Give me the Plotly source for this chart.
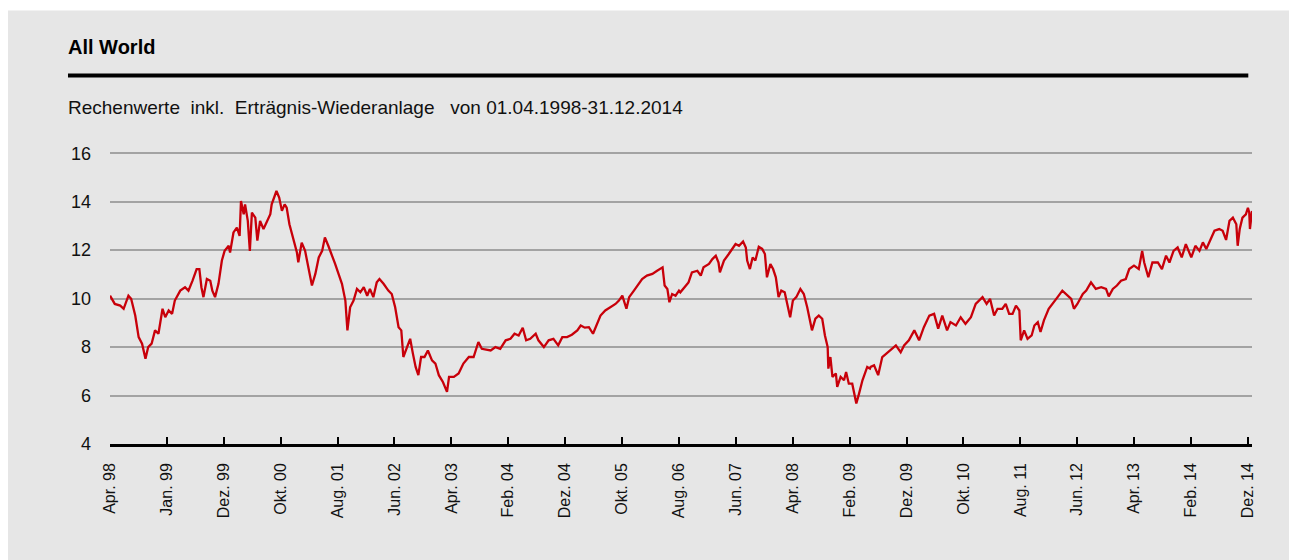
import plotly.graph_objects as go
import numpy as np

# ---- data (decimal year, index value) ----
years = [
    1998.25, 1998.32, 1998.40, 1998.45, 1998.52, 1998.56, 1998.62, 1998.67, 1998.72, 1998.77,
    1998.81, 1998.86, 1998.91, 1998.96, 1999.02, 1999.06, 1999.11, 1999.16, 1999.20, 1999.28,
    1999.35, 1999.40, 1999.46, 1999.52, 1999.56, 1999.59, 1999.62, 1999.67, 1999.72, 1999.75,
    1999.79, 1999.84, 1999.89, 1999.93, 1999.99, 2000.01, 2000.06, 2000.11, 2000.15, 2000.17,
    2000.21, 2000.23, 2000.27, 2000.30, 2000.33, 2000.38, 2000.41, 2000.45, 2000.50, 2000.55,
    2000.60, 2000.62, 2000.66, 2000.69, 2000.73, 2000.77, 2000.81, 2000.84, 2000.88, 2000.94,
    2000.99, 2001.01, 2001.06, 2001.11, 2001.16, 2001.21, 2001.26, 2001.31, 2001.36, 2001.40,
    2001.45, 2001.50, 2001.55, 2001.60, 2001.65, 2001.70, 2001.73, 2001.77, 2001.82, 2001.87,
    2001.92, 2001.97, 2002.02, 2002.06, 2002.11, 2002.16, 2002.20, 2002.26, 2002.33, 2002.38,
    2002.43, 2002.48, 2002.52, 2002.55, 2002.60, 2002.65, 2002.69, 2002.73, 2002.77, 2002.81,
    2002.86, 2002.91, 2002.97, 2003.02, 2003.07, 2003.13, 2003.19, 2003.22, 2003.29, 2003.36,
    2003.43, 2003.51, 2003.58, 2003.65, 2003.70, 2003.75, 2003.83, 2003.90, 2003.97, 2004.05,
    2004.12, 2004.18, 2004.24, 2004.30, 2004.35, 2004.41, 2004.49, 2004.53, 2004.61, 2004.68,
    2004.75, 2004.82, 2004.88, 2004.95, 2005.02, 2005.10, 2005.15, 2005.21, 2005.27, 2005.33,
    2005.39, 2005.44, 2005.51, 2005.59, 2005.66, 2005.71, 2005.76, 2005.82, 2005.86, 2005.93,
    2006.00, 2006.05, 2006.12, 2006.20, 2006.27, 2006.35, 2006.38, 2006.42, 2006.45, 2006.49,
    2006.54, 2006.59, 2006.61, 2006.69, 2006.73, 2006.78, 2006.86, 2006.91, 2006.95, 2007.03,
    2007.08, 2007.13, 2007.17, 2007.19, 2007.25, 2007.32, 2007.37, 2007.42, 2007.47, 2007.53,
    2007.57, 2007.59, 2007.63, 2007.67, 2007.71, 2007.76, 2007.81, 2007.85, 2007.88, 2007.93,
    2007.97, 2008.01, 2008.05, 2008.09, 2008.14, 2008.18, 2008.22, 2008.26, 2008.31, 2008.37,
    2008.42, 2008.47, 2008.54, 2008.59, 2008.64, 2008.69, 2008.73, 2008.77, 2008.78, 2008.81,
    2008.84, 2008.89, 2008.91, 2008.96, 2009.01, 2009.04, 2009.08, 2009.13, 2009.19, 2009.23,
    2009.28, 2009.35, 2009.39, 2009.40, 2009.45, 2009.51, 2009.57, 2009.63, 2009.69, 2009.77,
    2009.84, 2009.89, 2009.96, 2010.04, 2010.11, 2010.18, 2010.26, 2010.33, 2010.39, 2010.45,
    2010.52, 2010.57, 2010.65, 2010.72, 2010.79, 2010.87, 2010.94, 2011.04, 2011.10, 2011.15,
    2011.21, 2011.26, 2011.33, 2011.38, 2011.43, 2011.48, 2011.53, 2011.58, 2011.60, 2011.65,
    2011.70, 2011.76, 2011.80, 2011.85, 2011.89, 2011.94, 2012.01, 2012.07, 2012.14, 2012.21,
    2012.29, 2012.34, 2012.38, 2012.43, 2012.51, 2012.56, 2012.63, 2012.70, 2012.78, 2012.85,
    2012.89, 2012.95, 2013.01, 2013.07, 2013.14, 2013.19, 2013.26, 2013.33, 2013.38, 2013.41,
    2013.47, 2013.53, 2013.61, 2013.67, 2013.73, 2013.78, 2013.84, 2013.90, 2013.96, 2014.02,
    2014.10, 2014.16, 2014.22, 2014.27, 2014.32, 2014.37, 2014.44, 2014.51, 2014.56, 2014.61,
    2014.66, 2014.71, 2014.76, 2014.78, 2014.81, 2014.85, 2014.90, 2014.93, 2014.95, 2014.96,
    2014.99,
]
values = [
    10.12, 9.78, 9.71, 9.58, 10.12, 9.99, 9.30, 8.41, 8.14, 7.52,
    8.00, 8.14, 8.69, 8.55, 9.58, 9.23, 9.51, 9.37, 9.92, 10.33,
    10.47, 10.33, 10.74, 11.22, 11.22, 10.47, 10.06, 10.81, 10.74, 10.33,
    10.06, 10.61, 11.57, 11.97, 12.18, 11.90, 12.73, 12.93, 12.59, 14.03,
    13.48, 13.89, 13.21, 11.97, 13.55, 13.34, 12.39, 13.21, 12.87, 13.21,
    13.48, 13.89, 14.23, 14.44, 14.17, 13.62, 13.89, 13.75, 13.07, 12.46,
    11.90, 11.50, 12.31, 11.97, 11.29, 10.54, 11.02, 11.70, 11.97, 12.52,
    12.18, 11.84, 11.43, 11.02, 10.61, 9.92, 8.69, 9.64, 9.92, 10.40,
    10.26, 10.47, 10.12, 10.40, 10.06, 10.67, 10.81, 10.61, 10.33, 10.19,
    9.64, 8.82, 8.69, 7.59, 8.00, 8.34, 7.73, 7.18, 6.84, 7.59,
    7.59, 7.86, 7.45, 7.32, 6.84, 6.56, 6.15, 6.77, 6.77, 6.91,
    7.32, 7.59, 7.59, 8.21, 7.93, 7.90, 7.86, 8.00, 7.93, 8.28,
    8.34, 8.55, 8.48, 8.80, 8.28, 8.34, 8.55, 8.28, 8.00, 8.28,
    8.34, 8.07, 8.41, 8.41, 8.51, 8.69, 8.89, 8.80, 8.82, 8.55,
    8.96, 9.30, 9.51, 9.64, 9.78, 9.92, 10.12, 9.58, 10.06, 10.33,
    10.61, 10.81, 10.95, 11.02, 11.15, 11.29, 10.54, 10.40, 9.85, 10.19,
    10.12, 10.33, 10.26, 10.54, 10.67, 11.08, 11.15, 10.95, 11.29, 11.43,
    11.63, 11.77, 11.49, 11.08, 11.57, 11.84, 12.05, 12.25, 12.18, 12.36,
    12.11, 11.57, 11.22, 11.70, 11.57, 12.14, 12.05, 11.84, 10.88, 11.43,
    11.22, 10.88, 10.06, 10.33, 10.26, 9.78, 9.23, 9.92, 10.06, 10.40,
    10.19, 9.64, 8.69, 9.17, 9.30, 9.17, 8.48, 8.00, 7.11, 7.59,
    6.77, 6.91, 6.36, 6.77, 6.63, 6.97, 6.49, 6.49, 5.67, 6.08,
    6.63, 7.18, 7.11, 7.18, 7.25, 6.84, 7.59, 7.73, 7.86, 8.07,
    7.79, 8.07, 8.28, 8.69, 8.28, 8.82, 9.30, 9.37, 8.76, 9.30,
    8.69, 9.03, 8.89, 9.23, 8.96, 9.23, 9.78, 10.06, 9.78, 9.99,
    9.30, 9.58, 9.58, 9.78, 9.37, 9.37, 9.71, 9.51, 8.28, 8.69,
    8.34, 8.48, 8.89, 9.03, 8.62, 9.10, 9.58, 9.78, 10.06, 10.33,
    10.12, 9.99, 9.58, 9.78, 10.19, 10.33, 10.67, 10.40, 10.47, 10.40,
    10.09, 10.40, 10.54, 10.74, 10.81, 11.22, 11.36, 11.22, 11.97, 11.49,
    10.88, 11.49, 11.49, 11.22, 11.77, 11.49, 11.97, 12.11, 11.70, 12.25,
    11.70, 12.18, 11.97, 12.32, 12.05, 12.39, 12.80, 12.87, 12.80, 12.42,
    13.21, 13.34, 13.07, 12.18, 12.87, 13.34, 13.48, 13.75, 13.55, 12.87,
    13.62,
]
tick_labels = ["Apr. 98", "Jan. 99", "Dez. 99", "Okt. 00", "Aug. 01", "Jun. 02", "Apr. 03",
               "Feb. 04", "Dez. 04", "Okt. 05", "Aug. 06", "Jun. 07", "Apr. 08", "Feb. 09",
               "Dez. 09", "Okt. 10", "Aug. 11", "Jun. 12", "Apr. 13", "Feb. 14", "Dez. 14"]
y_ticks = [4, 6, 8, 10, 12, 14, 16]
title_text = "All World"
subtitle_text = "Rechenwerte\u00a0\u00a0inkl.\u00a0\u00a0Erträgnis-Wiederanlage\u00a0\u00a0 von 01.04.1998-31.12.2014"

# ---- layout geometry (page pixels; the page body adds an 8px offset) ----
OFF = 8
W, H = 1281, 552
Y_MIN, Y_MAX = 4, 16.05
PLOT_L, PLOT_R, PLOT_B = 110, 1251.7, 444.5          # page coords
UNIT = (444.5 - 153) / 12.0                           # px per index point
PLOT_T = PLOT_B - (Y_MAX - Y_MIN) * UNIT
ML = PLOT_L - OFF
MR = W - (PLOT_R - OFF)
MT = PLOT_T - OFF
MB = H - (PLOT_B - OFF)
PW, PH = PLOT_R - PLOT_L, PLOT_B - PLOT_T


def px(xp):
    return (xp - PLOT_L) / PW


def py(yp):
    return (PLOT_B - yp) / PH


FONT = "Liberation Sans Narrow, Arial Narrow, Liberation Sans, Arial, sans-serif"
tick_vals = np.linspace(years[0], 2014.93, len(tick_labels))

fig = go.Figure()
fig.add_trace(go.Scatter(
    x=years, y=values, mode="lines",
    line=dict(color="#c8000a", width=2.3),
    hoverinfo="x+y", showlegend=False,
))

fig.update_layout(
    width=W, height=H,
    margin=dict(l=ML, r=MR, t=MT, b=MB, pad=0),
    paper_bgcolor="white",
    plot_bgcolor="rgba(0,0,0,0)",
    font=dict(family=FONT, size=16, color="#111111"),
    xaxis=dict(
        range=[years[0], years[-1]],
        tickmode="array", tickvals=tick_vals, ticktext=tick_labels,
        tickangle=-90,
        showgrid=False, zeroline=False,
        showline=True, linecolor="black", linewidth=2.5,
        ticks="inside", ticklen=7, tickwidth=2, tickcolor="black",
        tickfont=dict(family=FONT, size=16, color="#111111"),
        ticklabelstandoff=10,
        fixedrange=True,
    ),
    yaxis=dict(
        range=[Y_MIN, Y_MAX],
        tickmode="array", tickvals=y_ticks,
        showgrid=True, gridcolor="#a3a3a3", gridwidth=2,
        zeroline=False, showline=False, ticks="",
        tickfont=dict(family=FONT, size=18, color="#111111"),
        ticklabelstandoff=18,
        fixedrange=True,
    ),
    shapes=[
        dict(type="rect", xref="paper", yref="paper",
             x0=px(8), x1=px(1290), y0=py(562), y1=py(10),
             fillcolor="#e6e6e6", line=dict(width=0), layer="below"),
        dict(type="line", xref="paper", yref="paper",
             x0=px(68), x1=px(1248), y0=py(75), y1=py(75),
             line=dict(color="black", width=4)),
    ],
    annotations=[
        dict(text="<b>" + title_text + "</b>", xref="paper", yref="paper",
             x=px(66), y=py(47), xanchor="left", yanchor="middle", showarrow=False,
             font=dict(family=FONT, size=20, color="black")),
        dict(text=subtitle_text, xref="paper", yref="paper",
             x=px(66), y=py(107), xanchor="left", yanchor="middle", showarrow=False,
             font=dict(family=FONT, size=19, color="#111111")),
    ],
)

fig.write_html("out.html")
